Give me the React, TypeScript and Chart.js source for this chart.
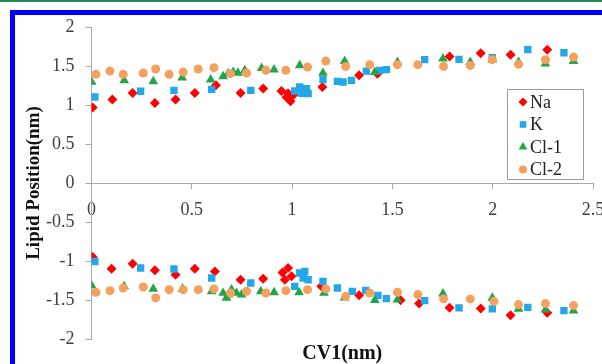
import React, { useEffect, useRef } from 'react';
import { Chart, registerables } from 'chart.js';

Chart.register(...registerables);

// ---- data (CV1 in nm, lipid position in nm) ----
const naTop: [number, number][] = [
  [0.006, 0.967], [0.104, 1.07], [0.205, 1.154], [0.316, 1.026], [0.419, 1.07],
  [0.515, 1.154], [0.62, 1.253], [0.743, 1.154], [0.856, 1.21], [0.947, 1.18],
  [0.972, 1.10], [0.992, 1.048], [1.005, 1.125], [0.98, 1.15], [1.151, 1.231],
  [1.334, 1.38], [1.425, 1.40], [1.785, 1.623], [1.94, 1.665], [2.089, 1.645],
  [2.272, 1.709],
];
const naBottom: [number, number][] = [
  [0.006, -0.95], [0.10, -1.10], [0.205, -1.035], [0.316, -1.12], [0.419, -1.175],
  [0.515, -1.10], [0.615, -1.134], [0.743, -1.24], [0.856, -1.227], [0.952, -1.146],
  [0.98, -1.09], [0.964, -1.24], [0.997, -1.197], [1.146, -1.325], [1.334, -1.44],
  [1.541, -1.504], [1.633, -1.546], [1.785, -1.60], [1.94, -1.61], [2.089, -1.696],
  [2.272, -1.665],
];
const kTop: [number, number][] = [
  [0.017, 1.103], [0.245, 1.176], [0.411, 1.188], [0.599, 1.20], [0.794, 1.188],
  [1.013, 1.18], [1.038, 1.231], [1.072, 1.21], [1.08, 1.146], [1.048, 1.15],
  [1.154, 1.325], [1.226, 1.303], [1.254, 1.295], [1.296, 1.316], [1.37, 1.435],
  [1.437, 1.444], [1.47, 1.453], [1.661, 1.581], [1.832, 1.585], [1.998, 1.606],
  [2.175, 1.709], [2.355, 1.67],
];
const kBottom: [number, number][] = [
  [0.017, -1.006], [0.245, -1.09], [0.411, -1.103], [0.599, -1.218], [0.794, -1.282],
  [1.038, -1.154], [1.063, -1.134], [1.055, -1.218], [1.08, -1.24], [1.013, -1.325],
  [1.154, -1.261], [1.226, -1.346], [1.30, -1.389], [1.367, -1.376], [1.428, -1.44],
  [1.47, -1.482], [1.661, -1.508], [1.832, -1.601], [1.998, -1.614], [2.175, -1.594],
  [2.355, -1.636],
];
const cl1Top: [number, number][] = [
  [0.001, 1.295], [0.163, 1.316], [0.308, 1.303], [0.452, 1.351], [0.594, 1.325],
  [0.656, 1.367], [0.681, 1.402], [0.706, 1.422], [0.73, 1.412], [0.764, 1.444],
  [0.848, 1.473], [0.91, 1.453], [1.038, 1.508], [1.154, 1.41], [1.262, 1.563],
  [1.412, 1.422], [1.525, 1.55], [1.752, 1.594], [1.888, 1.55], [1.998, 1.581],
  [2.129, 1.55], [2.263, 1.53], [2.403, 1.563],
];
const cl1Bottom: [number, number][] = [
  [0.001, -1.316], [0.163, -1.325], [0.308, -1.358], [0.454, -1.358], [0.599, -1.389],
  [0.656, -1.41], [0.681, -1.431], [0.698, -1.367], [0.723, -1.41], [0.748, -1.431],
  [0.673, -1.473], [0.844, -1.389], [0.91, -1.402], [1.035, -1.402], [1.159, -1.41],
  [1.262, -1.47], [1.412, -1.504], [1.525, -1.495], [1.752, -1.419], [1.998, -1.473],
  [2.129, -1.614], [2.263, -1.623], [2.403, -1.636],
];
const cl2Top: [number, number][] = [
  [0.022, 1.393], [0.092, 1.435], [0.158, 1.393], [0.258, 1.41], [0.32, 1.461],
  [0.387, 1.393], [0.457, 1.422], [0.532, 1.461], [0.61, 1.479], [0.693, 1.402],
  [0.773, 1.41], [0.869, 1.444], [0.969, 1.444], [1.077, 1.486], [1.168, 1.563],
  [1.267, 1.495], [1.387, 1.517], [1.525, 1.517], [1.627, 1.517], [1.755, 1.495],
  [1.888, 1.508], [1.998, 1.581], [2.129, 1.521], [2.263, 1.581], [2.403, 1.614],
];
const cl2Bottom: [number, number][] = [
  [0.022, -1.402], [0.092, -1.38], [0.158, -1.346], [0.258, -1.333], [0.32, -1.473],
  [0.387, -1.367], [0.457, -1.367], [0.532, -1.367], [0.61, -1.358], [0.693, -1.41],
  [0.773, -1.389], [0.869, -1.41], [0.969, -1.38], [1.077, -1.367], [1.168, -1.358],
  [1.267, -1.453], [1.387, -1.41], [1.525, -1.402], [1.627, -1.431], [1.755, -1.486],
  [1.888, -1.486], [2.006, -1.517], [2.129, -1.559], [2.263, -1.546], [2.403, -1.572],
];

const seriesNames = ['Na', 'K', 'Cl-1', 'Cl-2'];
const seriesColors = ['#FF0000', '#22A7E8', '#21A44B', '#F5A05C'];
const seriesShapes = ['rectRot', 'rect', 'triangle', 'circle'];
const seriesRadii = [5, 5.2, 5.6, 4.5];
const seriesPoints = [
  [...naTop, ...naBottom],
  [...kTop, ...kBottom],
  [...cl1Top, ...cl1Bottom],
  [...cl2Top, ...cl2Bottom],
];

const xMin = 0;
const xMax = 2.5;
const yMin = -2;
const yMax = 2;
const tickStep = 0.5;
const xTitle = 'CV1(nm)';
const yTitle = 'Lipid Position(nm)';

const SERIF = '"Liberation Serif", "Times New Roman", serif';
const AXIS_GRAY = '#a8a8a8';
const TICK_TEXT = '#404040';

function drawMarker(ctx: CanvasRenderingContext2D, shape: string, x: number, y: number, r: number) {
  ctx.beginPath();
  if (shape === 'rectRot') {
    ctx.moveTo(x, y - r);
    ctx.lineTo(x + r, y);
    ctx.lineTo(x, y + r);
    ctx.lineTo(x - r, y);
  } else if (shape === 'rect') {
    const s = r * Math.SQRT1_2;
    ctx.rect(x - s, y - s, 2 * s, 2 * s);
  } else if (shape === 'triangle') {
    ctx.moveTo(x, y - r);
    ctx.lineTo(x + 0.866 * r, y + 0.5 * r);
    ctx.lineTo(x - 0.866 * r, y + 0.5 * r);
  } else {
    ctx.arc(x, y, r, 0, Math.PI * 2);
  }
  ctx.closePath();
  ctx.fill();
}

const boxLegend = {
  id: 'boxLegend',
  afterDraw(chart: any) {
    const { ctx, chartArea } = chart;
    const w = 76;
    const h = 90;
    const left = Math.round(chartArea.right - 86);
    const top = Math.round(chartArea.top + 61.5);
    ctx.save();
    ctx.fillStyle = '#ffffff';
    ctx.fillRect(left, top, w, h);
    ctx.strokeStyle = '#9a9a9a';
    ctx.lineWidth = 1;
    ctx.strokeRect(left + 0.5, top + 0.5, w, h);
    ctx.font = `18px ${SERIF}`;
    ctx.textBaseline = 'middle';
    ctx.textAlign = 'left';
    seriesNames.forEach((name, i) => {
      const cy = top + 13 + i * 22.5;
      ctx.fillStyle = seriesColors[i];
      drawMarker(ctx, seriesShapes[i], left + 16, cy, seriesRadii[i] * 0.9);
      ctx.fillStyle = '#222222';
      ctx.fillText(name, left + 23, cy + 1);
    });
    ctx.restore();
  },
};

const fmt = (v: any) => String(Math.round(Number(v) * 100) / 100);

export default function App() {
  const ref = useRef<HTMLCanvasElement>(null);

  useEffect(() => {
    const canvas = ref.current;
    if (!canvas) return;
    const datasets = seriesNames.map((name, i) => ({
      label: name,
      data: seriesPoints[i].map(([x, y]) => ({ x, y })),
      pointStyle: seriesShapes[i] as any,
      pointRadius: seriesRadii[i],
      pointBorderWidth: 0,
      backgroundColor: seriesColors[i],
      borderColor: seriesColors[i],
      showLine: false,
      order: seriesNames.length - 1 - i,
    }));
    const chart = new Chart(canvas, {
      type: 'scatter',
      data: { datasets },
      options: {
        responsive: false,
        animation: false,
        devicePixelRatio: 1,
        layout: { padding: { left: 0, right: 47, top: 27, bottom: 0 } },
        plugins: { legend: { display: false }, tooltip: { enabled: false } },
        scales: {
          x: {
            type: 'linear',
            position: 'bottom',
            min: xMin,
            max: xMax,
            ticks: { display: false },
            grid: { display: false },
            border: { display: false },
            title: {
              display: true,
              text: xTitle,
              color: '#111111',
              font: { family: SERIF, size: 20, weight: 'bold' },
              padding: { top: 0, bottom: -2 },
            },
            afterFit: (s: any) => {
              s.height = 25;
            },
          },
          x2: {
            type: 'linear',
            axis: 'x',
            position: { y: 0 } as any,
            min: xMin,
            max: xMax,
            ticks: {
              stepSize: tickStep,
              autoSkip: false,
              maxRotation: 0,
              padding: 11,
              color: TICK_TEXT,
              font: { family: SERIF, size: 18 },
              callback: fmt,
            },
            grid: { drawOnChartArea: false, drawTicks: true, tickLength: 5, color: AXIS_GRAY },
            border: { display: true, color: AXIS_GRAY, width: 1 },
          },
          y: {
            type: 'linear',
            position: 'left',
            min: yMin,
            max: yMax,
            ticks: {
              stepSize: tickStep,
              autoSkip: false,
              padding: 11,
              color: TICK_TEXT,
              font: { family: SERIF, size: 18 },
              callback: fmt,
            },
            grid: { drawOnChartArea: false, drawTicks: true, tickLength: 6, color: AXIS_GRAY },
            border: { display: true, color: AXIS_GRAY, width: 1 },
            title: {
              display: true,
              text: yTitle,
              color: '#111111',
              font: { family: SERIF, size: 19, weight: 'bold' },
              padding: { top: 23, bottom: 0 },
            },
            afterFit: (s: any) => {
              s.width = 91.5;
            },
          },
        },
      } as any,
      plugins: [boxLegend],
    });
    return () => chart.destroy();
  }, []);

  return (
    <div
      style={{
        position: 'absolute',
        left: 0,
        top: 0,
        width: 602,
        height: 364,
        overflow: 'hidden',
        background: '#ffffff',
      }}
    >
      <canvas
        ref={ref}
        width={640}
        height={364}
        style={{ position: 'absolute', left: 0, top: 0, width: 640, height: 364, display: 'block' }}
      />
      <div
        style={{
          position: 'absolute',
          left: 0,
          top: 0,
          width: 602,
          height: 2,
          background: '#23885a',
        }}
      />
      <div
        style={{
          position: 'absolute',
          left: 10,
          top: 10,
          width: 800,
          height: 800,
          borderLeft: '5px solid #0000ff',
          borderTop: '5px solid #0000ff',
          boxSizing: 'border-box',
        }}
      />
    </div>
  );
}
